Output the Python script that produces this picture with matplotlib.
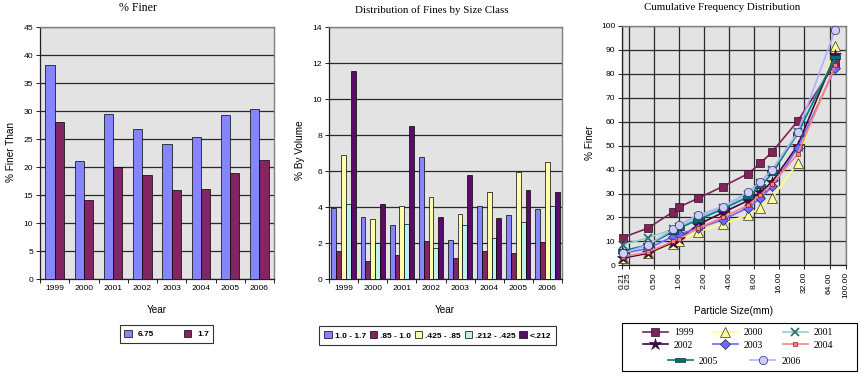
import matplotlib
matplotlib.use("Agg")
import matplotlib.pyplot as plt
import numpy as np
from matplotlib.patches import Rectangle, Patch
from matplotlib.ticker import FixedLocator, NullLocator

# ---------------- data ----------------
years = ['1999', '2000', '2001', '2002', '2003', '2004', '2005', '2006']

# Chart 1: % finer than
finer_675 = [38.3, 21.2, 29.6, 26.8, 24.1, 25.5, 29.4, 30.5]
finer_17 = [28.1, 14.1, 20.0, 18.7, 15.9, 16.1, 18.9, 21.3]
finer_labels = ['6.75', '1.7']

# Chart 2: distribution of fines by size class
size_classes = ['1.0 - 1.7', '.85 - 1.0', '.425 - .85', '.212 - .425', '<.212']
vol_10_17 = [3.95, 3.45, 3.0, 6.8, 2.2, 4.05, 3.55, 3.9]
vol_085_10 = [1.6, 1.0, 1.35, 2.15, 1.2, 1.6, 1.45, 2.05]
vol_0425_085 = [6.9, 3.35, 4.05, 4.6, 3.65, 4.85, 5.95, 6.5]
vol_0212_0425 = [4.2, 2.0, 3.1, 1.75, 3.0, 2.3, 3.2, 4.1]
vol_lt0212 = [11.6, 4.2, 8.5, 3.45, 5.8, 3.4, 4.95, 4.85]

# Chart 3: cumulative frequency distribution
particle_size = [0.212, 0.425, 0.85, 1.0, 1.7, 3.35, 6.7, 9.5, 13.2, 26.5, 75.0]
cum_1999 = [11.6, 15.5, 22.3, 24.3, 28.0, 32.9, 38.2, 42.6, 47.5, 60.2, 84.5]
cum_2000 = [3.0, 5.0, 9.0, 10.3, 14.0, 17.3, 21.0, 24.0, 28.3, 42.6, 91.6]
cum_2001 = [8.5, 11.5, 15.0, 16.0, 20.0, 24.0, 29.5, 34.5, 40.0, 55.5, 87.0]
cum_2002 = [3.0, 5.0, 9.5, 11.0, 17.0, 22.0, 27.0, 30.5, 35.0, 50.0, 88.0]
cum_2003 = [5.0, 7.0, 12.0, 13.0, 15.5, 19.0, 24.0, 28.0, 33.0, 49.0, 82.5]
cum_2004 = [3.5, 5.5, 10.0, 11.0, 15.5, 20.0, 25.0, 29.5, 34.0, 46.5, 83.5]
cum_2005 = [6.0, 8.5, 14.0, 15.5, 19.0, 23.5, 28.5, 33.0, 38.5, 55.0, 87.0]
cum_2006 = [5.0, 8.5, 15.0, 17.0, 21.0, 24.5, 30.5, 35.0, 40.0, 55.5, 98.5]

x_tick_values = [0.21, 0.25, 0.5, 1, 2, 4, 8, 16, 32, 64, 100]
x_tick_labels = ['0.21', '0.25', '0.50', '1.00', '2.00', '4.00', '8.00',
                 '16.00', '32.00', '64.00', '100.00']

# ---------------- style ----------------
SANS = 'Liberation Sans'
SERIF = 'Liberation Serif'
BG = '#E3E3E3'
GRID = '#2a2a2a'
W, H = 861, 386
TICK = 6.1
TITLE = 7.8
LABEL = 7.2

fig = plt.figure(figsize=(W / 100, H / 100), dpi=100)
fig.patch.set_facecolor('white')


def ax_px(left, top, right, bottom):
    return fig.add_axes([left / W, 1 - bottom / H, (right - left) / W, (bottom - top) / H])


def style_axes(ax, tick_size=TICK):
    ax.set_facecolor(BG)
    for s in ('top', 'right'):
        ax.spines[s].set_color('#808080')
        ax.spines[s].set_linewidth(1.0)
    for s in ('left', 'bottom'):
        ax.spines[s].set_color('#202020')
        ax.spines[s].set_linewidth(0.9)
    ax.tick_params(axis='both', which='major', direction='out', length=3, width=0.7,
                   color='#202020', labelsize=tick_size, pad=2)
    for lab in ax.get_xticklabels() + ax.get_yticklabels():
        lab.set_family(SANS)


def bar_xaxis(ax):
    n = len(years)
    ax.set_xlim(-0.5, n - 0.5)
    ax.xaxis.set_major_locator(FixedLocator(np.arange(-0.5, n, 1.0)))
    ax.xaxis.set_major_formatter(plt.NullFormatter())
    ax.set_xticks(np.arange(n), minor=True)
    ax.set_xticklabels(years, minor=True, fontsize=TICK, family=SANS)
    ax.tick_params(axis='x', which='minor', length=0, pad=4)
    ax.tick_params(axis='x', which='major', length=3, direction='out')


# ---------------- chart 1 ----------------
ax1 = ax_px(40, 27.3, 274, 279.3)
x = np.arange(len(years))
bw = 0.32
ax1.bar(x - bw / 2, finer_675, bw, color='#8585FF', edgecolor='black', linewidth=0.5, zorder=3)
ax1.bar(x + bw / 2, finer_17, bw, color='#822562', edgecolor='black', linewidth=0.5, zorder=3)
ax1.set_ylim(0, 45)
ax1.set_yticks(np.arange(0, 46, 5))
ax1.yaxis.grid(True, color=GRID, linewidth=0.9, zorder=1)
ax1.set_axisbelow(True)
style_axes(ax1)
bar_xaxis(ax1)
fig.text(138 / W, 1 - 8 / H, '% Finer', family=SERIF, fontsize=8.6, ha='center', va='center')
fig.text(11 / W, 1 - 152 / H, '% Finer Than', family=SANS, fontsize=LABEL, rotation=90,
         ha='center', va='center')
fig.text(157 / W, 1 - 310 / H, 'Year', family=SANS, fontsize=LABEL, ha='center', va='center')
leg1 = fig.legend(handles=[Patch(facecolor='#8585FF', edgecolor='black', linewidth=0.5),
                           Patch(facecolor='#822562', edgecolor='black', linewidth=0.5)],
                  labels=finer_labels, ncol=2, loc='center',
                  bbox_to_anchor=(166.5 / W, 1 - 334 / H),
                  prop={'family': SANS, 'size': 6, 'weight': 'bold'},
                  frameon=True, fancybox=False, edgecolor='black', handlelength=0.9,
                  handleheight=0.9, handletextpad=0.7, columnspacing=3.6,
                  borderpad=0.55)
leg1.get_frame().set_linewidth(0.8)

# ---------------- chart 2 ----------------
ax2 = ax_px(329.3, 27.3, 561.7, 279.3)
vols = [vol_10_17, vol_085_10, vol_0425_085, vol_0212_0425, vol_lt0212]
vcolors = ['#8585FF', '#822562', '#FFFFAA', '#BFEFEF', '#5C0A6C']
bw2 = 0.17
for k, (vals, c) in enumerate(zip(vols, vcolors)):
    ax2.bar(x + (k - 2) * bw2, vals, bw2, color=c, edgecolor='black', linewidth=0.5, zorder=3)
ax2.set_ylim(0, 14)
ax2.set_yticks(np.arange(0, 15, 2))
ax2.yaxis.grid(True, color=GRID, linewidth=0.9, zorder=1)
ax2.set_axisbelow(True)
style_axes(ax2)
bar_xaxis(ax2)
fig.text(431.7 / W, 1 - 10 / H, 'Distribution of Fines by Size Class', family=SERIF,
         fontsize=TITLE, ha='center', va='center')
fig.text(300 / W, 1 - 150 / H, '% By Volume', family=SANS, fontsize=LABEL, rotation=90,
         ha='center', va='center')
fig.text(445 / W, 1 - 310 / H, 'Year', family=SANS, fontsize=LABEL, ha='center', va='center')
leg2 = fig.legend(handles=[Patch(facecolor=c, edgecolor='black', linewidth=0.5) for c in vcolors],
                  labels=size_classes, ncol=5, loc='center',
                  bbox_to_anchor=(437.8 / W, 1 - 335.5 / H),
                  prop={'family': SANS, 'size': 6, 'weight': 'bold'},
                  frameon=True, fancybox=False, edgecolor='black', handlelength=0.9,
                  handleheight=0.9, handletextpad=0.35, columnspacing=0.45,
                  borderpad=0.6)
leg2.get_frame().set_linewidth(0.8)

# ---------------- chart 3 ----------------
ax3 = ax_px(622.3, 26, 845.7, 265.3)
ax3.set_xscale('log')
ax3.set_xlim(0.21, 100)
ax3.set_ylim(0, 100)
rect_marker = [(-1.0, -0.45), (1.0, -0.45), (1.0, 0.45), (-1.0, 0.45), (-1.0, -0.45)]
series = [
    ('1999', cum_1999, dict(color='#7E2458', marker='s', markersize=5.5, markerfacecolor='#7E2458',
                             markeredgecolor='#301020', markeredgewidth=0.5)),
    ('2000', cum_2000, dict(color='#FFFF80', marker='^', markersize=7.5, markerfacecolor='#FFFF99',
                             markeredgecolor='#303030', markeredgewidth=0.5)),
    ('2001', cum_2001, dict(color='#8FD0D0', marker='x', markersize=6, markerfacecolor='#2F6F6F',
                             markeredgecolor='#2F6F6F', markeredgewidth=1.3)),
    ('2002', cum_2002, dict(color='#4B0050', marker='*', markersize=9, markerfacecolor='#4B0050',
                             markeredgecolor='#200020', markeredgewidth=0.4)),
    ('2003', cum_2003, dict(color='#6A6AFF', marker='D', markersize=5, markerfacecolor='#6A6AFF',
                             markeredgecolor='#202060', markeredgewidth=0.5)),
    ('2004', cum_2004, dict(color='#FF8080', marker='s', markersize=3.5, markerfacecolor='#FF8080',
                             markeredgecolor='#802020', markeredgewidth=0.5)),
    ('2005', cum_2005, dict(color='#007F7F', marker=rect_marker, markersize=7, markerfacecolor='#006F6F',
                             markeredgecolor='#103030', markeredgewidth=0.5)),
    ('2006', cum_2006, dict(color='#B0B0FF', marker='o', markersize=6, markerfacecolor='#CCCCFF',
                             markeredgecolor='#303060', markeredgewidth=0.5)),
]
handles = {}
for name, vals, kw in series:
    ln, = ax3.plot(particle_size, vals, linewidth=1.2, zorder=3, clip_on=False, **kw)
    handles[name] = ln
ax3.xaxis.set_major_locator(FixedLocator(x_tick_values))
ax3.xaxis.set_minor_locator(NullLocator())
ax3.set_xticklabels(x_tick_labels, rotation=90)
ax3.set_yticks(np.arange(0, 101, 10))
ax3.grid(True, which='major', color=GRID, linewidth=0.9, zorder=1)
ax3.set_axisbelow(True)
style_axes(ax3, tick_size=TICK)
fig.text(721.7 / W, 1 - 8 / H, 'Cumulative Frequency Distribution', family=SERIF,
         fontsize=TITLE, ha='center', va='center')
fig.text(590 / W, 1 - 143 / H, '% Finer', family=SANS, fontsize=LABEL, rotation=90,
         ha='center', va='center')
fig.text(734 / W, 1 - 311 / H, 'Particle Size(mm)', family=SANS, fontsize=LABEL,
         ha='center', va='center')

# legend box for chart 3
fig.patches.append(Rectangle((622 / W, 1 - 371 / H), (857 - 622) / W, (371 - 323) / H,
                             transform=fig.transFigure, facecolor='white',
                             edgecolor='black', linewidth=0.8, zorder=1))
order6 = ['1999', '2002', '2000', '2003', '2001', '2004']
lgA = fig.legend(handles=[handles[n] for n in order6], labels=order6, ncol=3, loc='center',
                 bbox_to_anchor=(738 / W, 1 - 339 / H), frameon=False,
                 prop={'family': SERIF, 'size': 7}, handlelength=2.6,
                 handletextpad=0.6, columnspacing=2.0, labelspacing=0.35, borderpad=0.1)
lgB = fig.legend(handles=[handles['2005'], handles['2006']], labels=['2005', '2006'], ncol=2,
                 loc='center', bbox_to_anchor=(734 / W, 1 - 361 / H), frameon=False,
                 prop={'family': SERIF, 'size': 7}, handlelength=2.6,
                 handletextpad=0.6, columnspacing=3.3, borderpad=0.1)

fig.savefig('out.png', dpi=100)
